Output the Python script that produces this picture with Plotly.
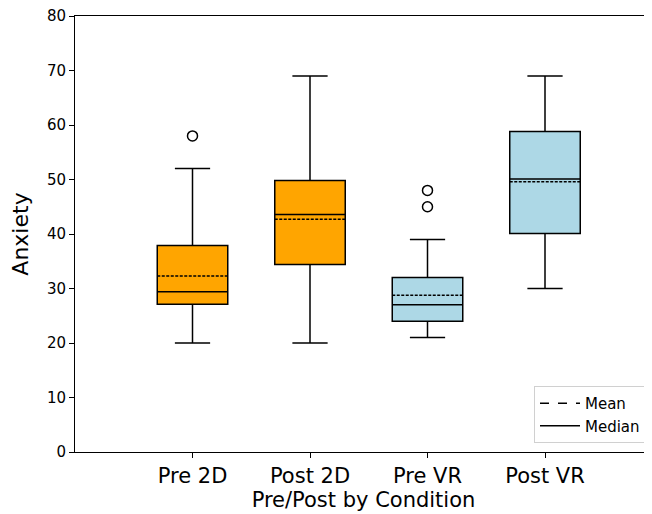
import plotly.graph_objects as go

categories = ["Pre 2D", "Post 2D", "Pre VR", "Post VR"]
positions = [1, 2, 3, 4]
q1 = [27.1, 34.4, 24.0, 40.1]
median = [29.4, 43.6, 27.0, 50.1]
q3 = [37.9, 49.8, 32.0, 58.8]
mean = [32.3, 42.7, 28.75, 49.6]
lower_whisker = [20.0, 20.0, 21.0, 30.0]
upper_whisker = [52.0, 69.0, 39.0, 69.0]
outlier_x = [1, 3, 3]
outlier_y = [58.0, 48.0, 45.0]
box_colors = ["#FFA500", "#FFA500", "#ADD8E6", "#ADD8E6"]

FONT = "DejaVu Sans"
fig = go.Figure()

for i in range(len(categories)):
    fig.add_trace(go.Box(
        x=[positions[i]], q1=[q1[i]], median=[median[i]], q3=[q3[i]],
        lowerfence=[lower_whisker[i]], upperfence=[upper_whisker[i]], mean=[mean[i]],
        boxmean=True, width=0.6, whiskerwidth=0.5,
        fillcolor=box_colors[i], line=dict(color="black", width=1.5),
        showlegend=False, hoverinfo="skip", boxpoints=False,
    ))

fig.add_trace(go.Scatter(
    x=outlier_x, y=outlier_y, mode="markers",
    marker=dict(symbol="circle-open", size=10, color="black", line=dict(width=1.5)),
    showlegend=False, hoverinfo="skip",
))

fig.add_trace(go.Scatter(x=[None], y=[None], mode="lines", name="Mean",
                         line=dict(color="black", width=1.5, dash="dash")))
fig.add_trace(go.Scatter(x=[None], y=[None], mode="lines", name="Median",
                         line=dict(color="black", width=1.5)))

# page body has an 8px margin, so the figure is sized to fit the window
W, H = 644, 506
L, T, B = 67, 8, 62
plot_w = W - L
plot_h = H - T - B

fig.update_layout(
    width=W, height=H,
    margin=dict(l=L, r=0, t=T, b=B),
    plot_bgcolor="white", paper_bgcolor="white",
    boxmode="overlay",
    font=dict(family=FONT, color="black"),
    legend=dict(
        x=(526 - L) / plot_w, y=9 / plot_h, xanchor="left", yanchor="bottom",
        bgcolor="white", bordercolor="#d0d0d0", borderwidth=1,
        font=dict(size=15, family=FONT), tracegroupgap=0, itemwidth=40,
    ),
    xaxis=dict(
        range=[0, plot_w / 117.5], tickvals=positions, ticktext=categories,
        showgrid=False, zeroline=False, showline=True, linecolor="black", linewidth=1,
        mirror=True, ticks="outside", ticklen=5, tickcolor="black",
        tickfont=dict(size=21, family=FONT),
        title=dict(text="Pre/Post by Condition", font=dict(size=21, family=FONT), standoff=3),
    ),
    yaxis=dict(
        range=[0, 80], dtick=10, showgrid=False, zeroline=False,
        showline=True, linecolor="black", linewidth=1,
        ticks="outside", ticklen=5, tickcolor="black", ticklabeloverflow="allow",
        tickfont=dict(size=15, family=FONT),
        title=dict(text="Anxiety", font=dict(size=22, family=FONT), standoff=12),
    ),
)

fig.write_html("out.html")
